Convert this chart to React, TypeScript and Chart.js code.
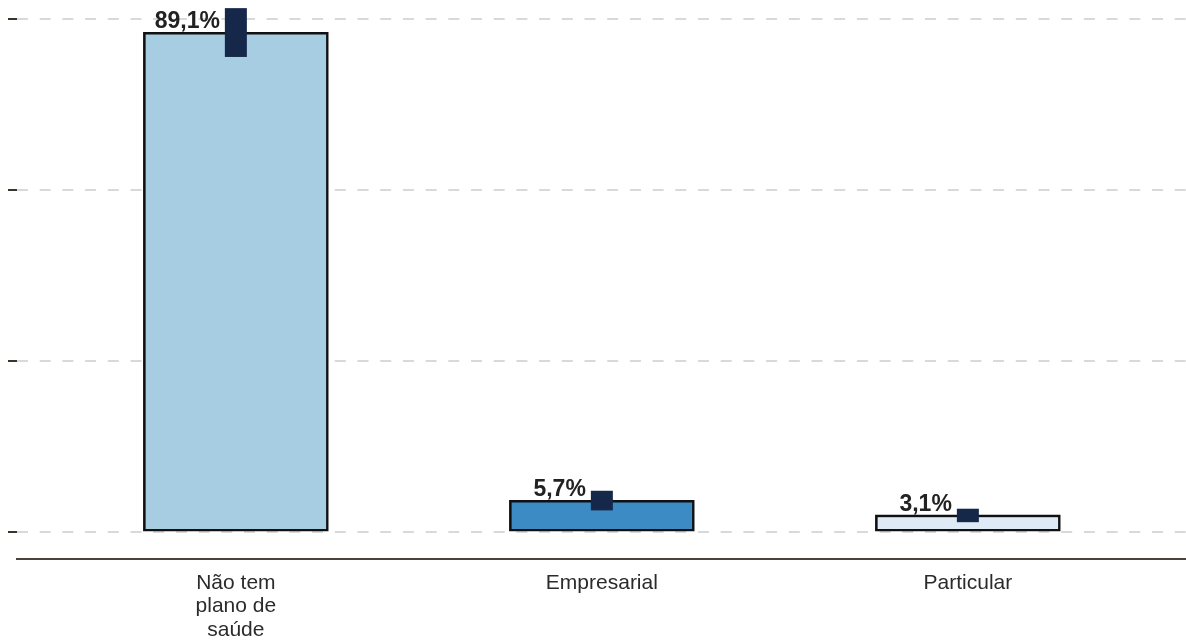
import React, { useEffect, useRef } from "react";
import { Chart, registerables } from "chart.js";

Chart.register(...registerables);

const categories: string[][] = [["Não tem", "plano de", "saúde"], ["Empresarial"], ["Particular"]];
const values: number[] = [89.1, 5.7, 3.1];
const ciLow: number[] = [84.7, 3.9, 1.8];
const ciHigh: number[] = [93.4, 7.4, 4.2];
const valueLabels: string[] = ["89,1%", "5,7%", "3,1%"];
const barColors: string[] = ["#a6cde2", "#3d8bc4", "#deebf7"];
const gridTicks: number[] = [0, 30.52, 61.03, 91.55];

const FONT = '"Liberation Sans", Arial, Helvetica, sans-serif';

const overlayPlugin = {
  id: "ciAndLabels",
  afterDatasetsDraw(chart: any) {
    const ctx = chart.ctx;
    const xs = chart.scales.x;
    const ys = chart.scales.y;
    ctx.save();
    values.forEach((v, i) => {
      const cx = xs.getPixelForValue(i);
      const yLo = ys.getPixelForValue(ciLow[i]);
      const yHi = ys.getPixelForValue(ciHigh[i]);
      ctx.fillStyle = "#15284a";
      ctx.fillRect(cx - 11, yHi, 22, yLo - yHi);
      ctx.font = `bold 23px ${FONT}`;
      ctx.fillStyle = "#222222";
      ctx.textAlign = "right";
      ctx.textBaseline = "alphabetic";
      ctx.fillText(valueLabels[i], cx - 16, ys.getPixelForValue(v) - 4);
    });
    ctx.restore();
  },
};

export default function App() {
  const ref = useRef<HTMLCanvasElement>(null);
  useEffect(() => {
    if (!ref.current) return;
    const chart = new Chart(ref.current, {
      type: "bar",
      data: {
        datasets: [
          {
            data: values.map((v, i) => ({ x: i, y: v })),
            backgroundColor: barColors,
            borderColor: "#111111",
            borderWidth: 2.6,
            borderSkipped: false,
            barThickness: 185,
          } as any,
        ],
      },
      options: {
        animation: false,
        responsive: false,
        devicePixelRatio: 1,
        layout: { padding: { left: 8, right: 0, top: 0, bottom: 0 } },
        plugins: { legend: { display: false }, tooltip: { enabled: false } },
        scales: {
          x: {
            type: "linear",
            min: -0.598,
            max: 2.596,
            offset: false,
            afterBuildTicks: (scale: any) => {
              scale.ticks = categories.map((_, i) => ({ value: i }));
            },
            afterFit: (scale: any) => {
              scale.height = 83;
            },
            grid: { display: true, drawOnChartArea: false, drawTicks: false, offset: false, color: "rgba(0,0,0,0)" },
            border: { display: true, color: "#4a4339", width: 2 },
            ticks: {
              autoSkip: false,
              maxRotation: 0,
              padding: 13,
              color: "#2b2b2b",
              font: { family: FONT, size: 21, lineHeight: 1.1 },
              callback: (v: any) => categories[Math.round(Number(v))] ?? "",
            },
          },
          y: {
            type: "linear",
            min: -4.76,
            max: 94.85,
            afterBuildTicks: (scale: any) => {
              scale.ticks = gridTicks.map((t) => ({ value: t }));
            },
            grid: {
              color: "#d9d9d9",
              lineWidth: 2,
              drawTicks: true,
              tickLength: 9,
              tickColor: "#3a342c",
              tickWidth: 2,
              tickBorderDash: [],
            },
            border: { display: false, dash: [11, 11.7] },
            ticks: { display: false },
          },
        },
      },
      plugins: [overlayPlugin],
    });
    return () => chart.destroy();
  }, []);
  return (
    <div style={{ position: "absolute", left: 0, top: 0, width: 1186, height: 642, background: "#ffffff" }}>
      <canvas ref={ref} width={1186} height={642} style={{ display: "block" }} />
    </div>
  );
}
